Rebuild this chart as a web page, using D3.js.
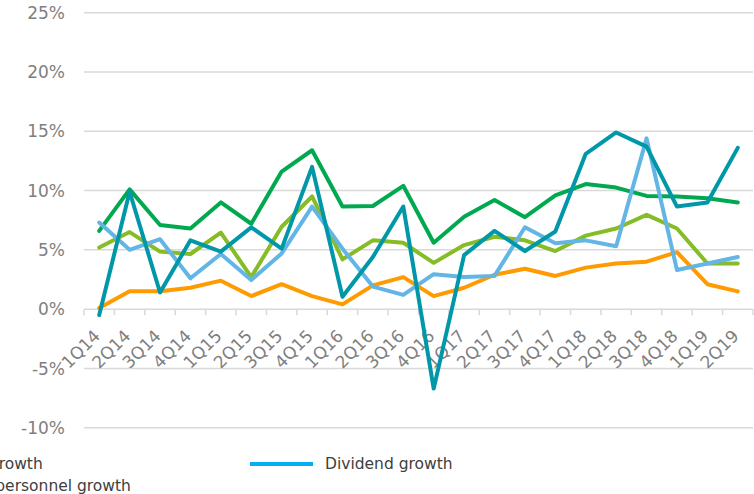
<!DOCTYPE html>
<html>
<head>
<meta charset="utf-8">
<script src="https://cdn.jsdelivr.net/npm/d3@7"></script>
<style>
  body { margin: 0; background: #fff; }
  svg { display: block; font-family: "DejaVu Sans", Verdana, sans-serif; }
  .grid line { stroke: #d9d9d9; stroke-width: 1.5; }
  .axis path, .axis line { stroke: #d9d9d9; stroke-width: 1.5; }
  .ylabel, .xlabel { fill: #7f7f7f; }
  .series { fill: none; stroke-width: 4; stroke-linejoin: round; stroke-linecap: round; }
  .legend text { fill: #404040; font-size: 15.5px; }
</style>
</head>
<body>
<svg width="754" height="494"></svg>
<script>
const quarters = ["1Q14","2Q14","3Q14","4Q14","1Q15","2Q15","3Q15","4Q15","1Q16","2Q16","3Q16",
                  "4Q16","1Q17","2Q17","3Q17","4Q17","1Q18","2Q18","3Q18","4Q18","1Q19","2Q19"]

const revenueGrowth = [6.6, 10.1, 7.1, 6.8, 9.0, 7.2, 11.6, 13.4, 8.65, 8.7, 10.4, 5.6, 7.8, 9.2, 7.75, 9.6, 10.55, 10.25, 9.55, 9.5, 9.35, 9.0]
const costGrowth = [5.2, 6.5, 4.85, 4.65, 6.45, 2.7, 6.95, 9.5, 4.2, 5.8, 5.6, 3.9, 5.4, 6.1, 5.8, 4.9, 6.2, 6.8, 7.95, 6.8, 3.85, 3.85]
const resultGrowth = [-0.5, 9.9, 1.4, 5.8, 4.85, 6.9, 5.1, 12.0, 1.05, 4.4, 8.65, -6.7, 4.55, 6.6, 4.9, 6.55, 13.1, 14.9, 13.7, 8.65, 9.0, 13.6]
const personnelGrowth = [0.1, 1.5, 1.5, 1.8, 2.4, 1.1, 2.1, 1.1, 0.4, 2.0, 2.7, 1.1, 1.8, 2.9, 3.4, 2.8, 3.5, 3.85, 4.0, 4.8, 2.1, 1.5]
const dividendGrowth = [7.3, 5.0, 5.9, 2.6, 4.65, 2.45, 4.7, 8.65, 5.1, 1.9, 1.2, 2.95, 2.7, 2.8, 6.9, 5.55, 5.8, 5.3, 14.4, 3.3, 3.85, 4.4]

const seriesNames = ["Revenue growth", "Cost growth", "Result growth", "Cost of personnel growth", "Dividend growth"]
const seriesValues = [revenueGrowth, costGrowth, resultGrowth, personnelGrowth, dividendGrowth]
const lineColors = ["#00a94f", "#86bc25", "#0097a9", "#ff9a00", "#62b5e5"]
const legendColors = ["#00a94f", "#86bc25", "#0097a9", "#ff9a00", "#00b0f0"]
const drawOrder = [0, 1, 3, 4, 2]
const yTicks = [-10, -5, 0, 5, 10, 15, 20, 25]

const svg = d3.select("svg")

const x = d3.scalePoint().domain(quarters).range([84, 753]).padding(0.5),
      band = d3.scaleBand().domain(quarters).range([84, 753]),
      y = d3.scaleLinear().domain([-10, 25]).range([427.7, 12.7])

// horizontal gridlines
svg.append("g")
    .attr("class", "grid")
  .selectAll("line")
  .data(yTicks.filter(d => d !== 0))
  .enter().append("line")
    .attr("x1", 84)
    .attr("x2", 753)
    .attr("y1", d => y(d))
    .attr("y2", d => y(d))

svg.append("g")
  .selectAll("text")
  .data(yTicks)
  .enter().append("text")
    .attr("class", "ylabel")
    .attr("x", 65)
    .attr("y", d => y(d))
    .attr("dy", "0.36em")
    .attr("text-anchor", "end")
    .style("font-size", "17px")
    .text(d => d + "%")

// category axis sits on the zero line, ticks between quarters
const xAxis = svg.append("g")
    .attr("class", "axis")
    .attr("transform", "translate(0," + y(0) + ")")

xAxis.append("line")
    .attr("x1", 84)
    .attr("x2", 753)

xAxis.selectAll(".tick")
  .data(quarters.map(q => band(q)).concat([753]))
  .enter().append("line")
    .attr("class", "tick")
    .attr("x1", d => d)
    .attr("x2", d => d)
    .attr("y1", 0)
    .attr("y2", 6)

svg.append("g")
  .selectAll("text")
  .data(quarters)
  .enter().append("text")
    .attr("class", "xlabel")
    .attr("transform", d => "translate(" + (x(d) + 2) + ",337) rotate(-45)")
    .attr("text-anchor", "end")
    .style("font-size", "17px")
    .text(d => d)

const line = d3.line()
    .x((d, i) => x(quarters[i]))
    .y(d => y(d))

svg.append("g")
  .selectAll("path")
  .data(drawOrder)
  .enter().append("path")
    .attr("class", "series")
    .attr("d", k => line(seriesValues[k]))
    .style("stroke", k => lineColors[k])

// legend: three columns, the first one and a half fall off the left edge
const colWidth = 389
const legend = svg.append("g")
    .attr("class", "legend")
  .selectAll("g")
  .data(seriesNames)
  .enter().append("g")
    .attr("transform", (d, i) => "translate(" + (250 - colWidth * (2 - Math.floor(i / 2))) + "," + (464 + 22 * (i % 2)) + ")")

legend.append("line")
    .attr("x1", 0)
    .attr("x2", 63)
    .style("stroke", (d, i) => legendColors[i])
    .style("stroke-width", 4)

legend.append("text")
    .attr("x", 75)
    .attr("dy", "0.35em")
    .text(d => d)
</script>
</body>
</html>
